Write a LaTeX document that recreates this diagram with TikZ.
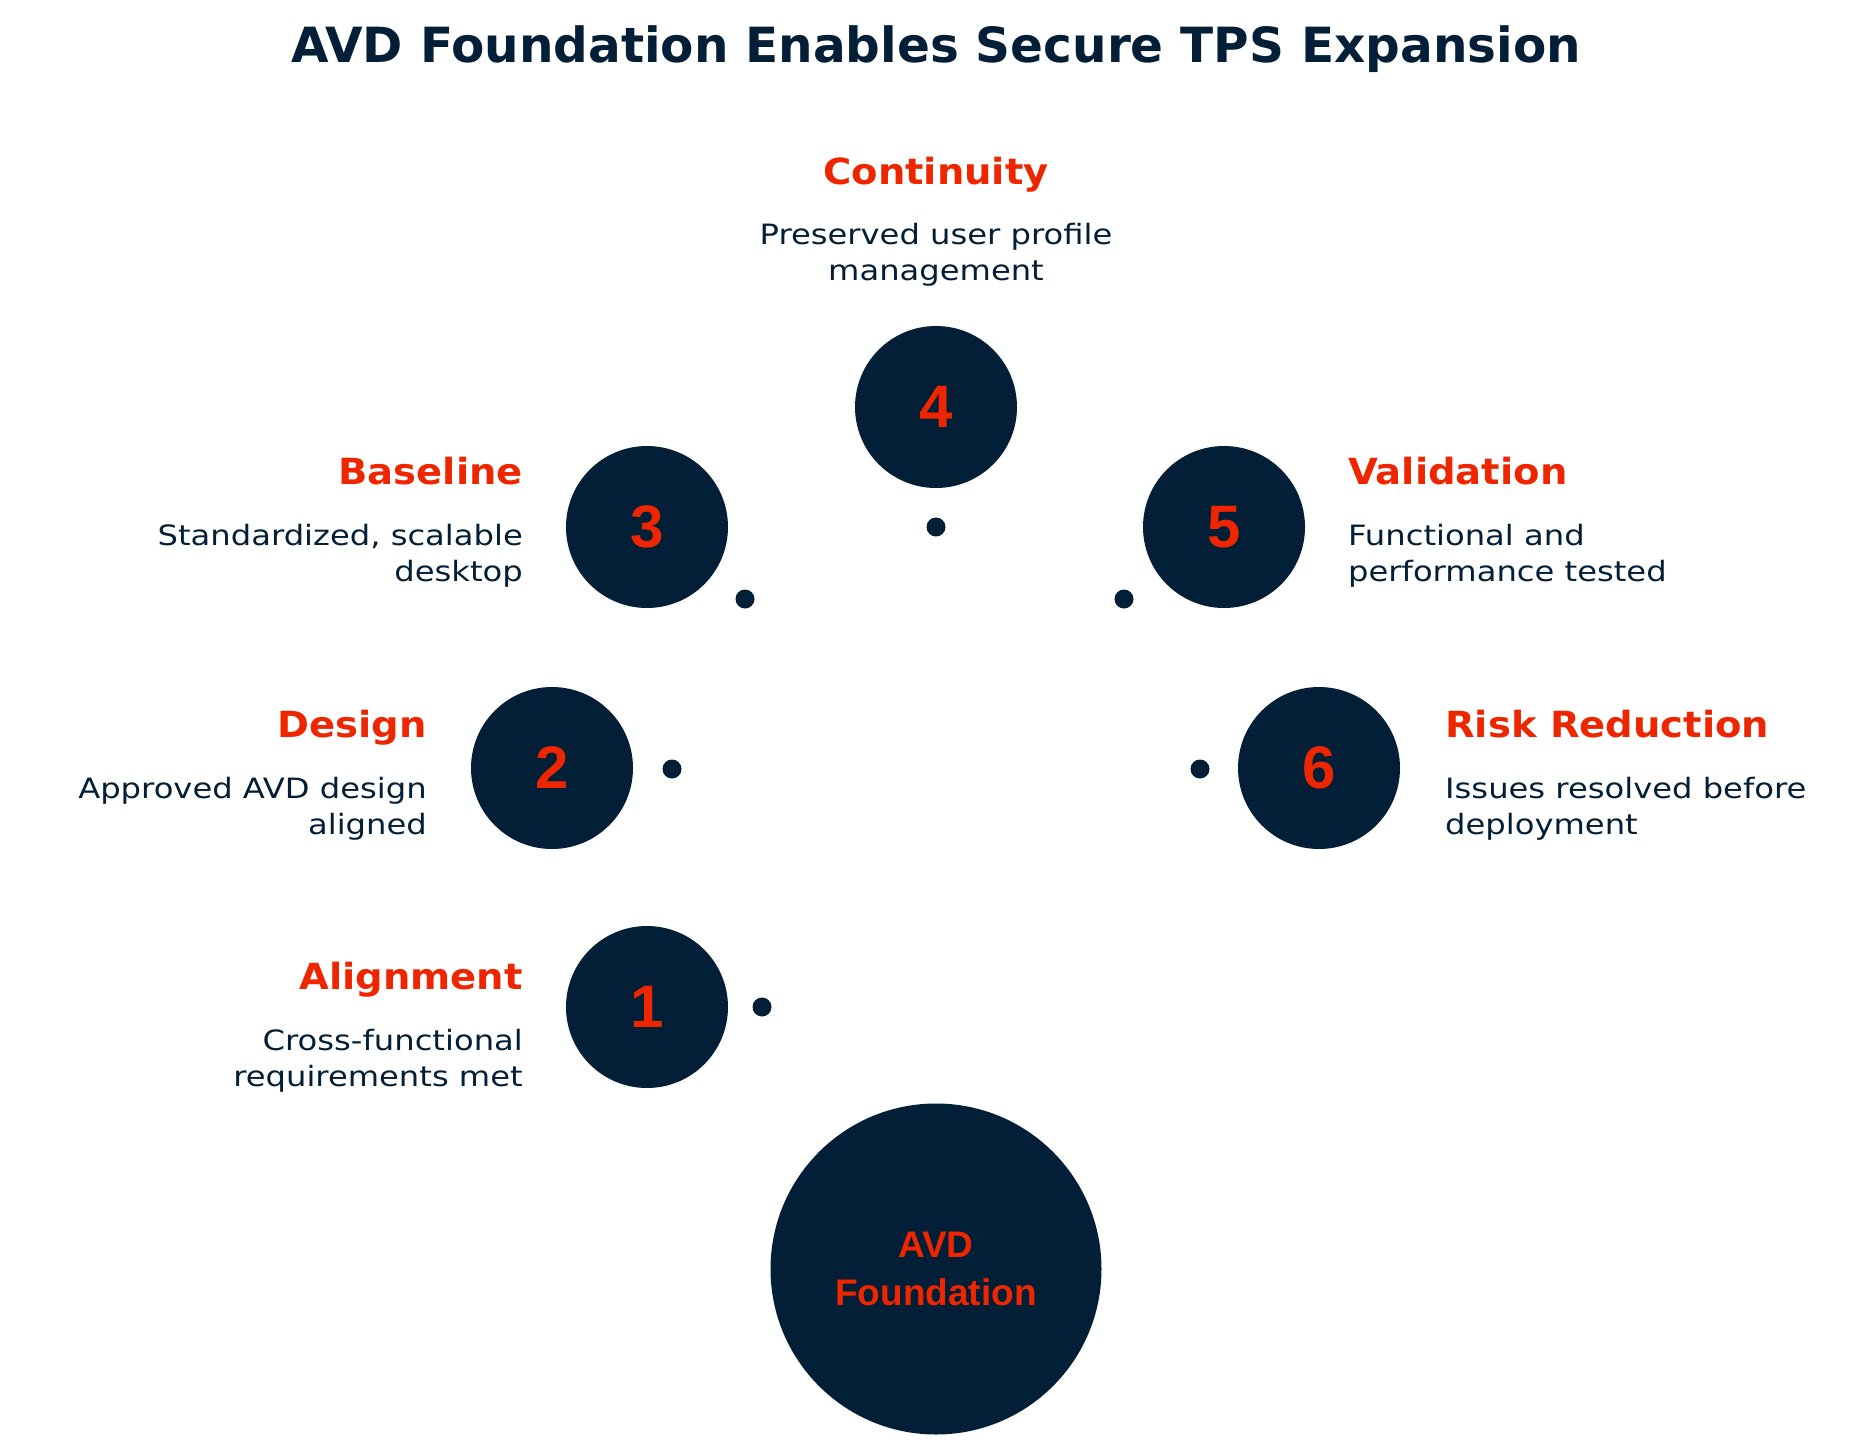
\documentclass[tikz,border=0pt]{standalone}
\usepackage{fontspec}
\usepackage{xcolor}
\setmainfont{DejaVu Sans}
\newfontfamily\numfont{Liberation Sans}
\newfontfamily\headfont[FakeStretch=1.07]{DejaVu Sans}
\newfontfamily\descfont[FakeStretch=1.15]{DejaVu Sans}
\definecolor{navy}{HTML}{021F37}
\definecolor{flame}{HTML}{EE2600}

\begin{document}
\begin{tikzpicture}[
		x=1pt,y=-1pt,
		step circle/.style={circle,fill=navy,minimum size=162,inner sep=0,text=flame,font=\numfont\bfseries\fontsize{60}{60}\selectfont},
		hub/.style={circle,fill=navy,minimum size=331,inner sep=0,text=flame,align=center,font=\numfont\bfseries\fontsize{37}{48}\selectfont},
		dot/.style={circle,fill=navy,minimum size=19,inner sep=0},
		heading/.style={text=flame,inner sep=0,font=\headfont\bfseries\fontsize{36}{40}\selectfont},
		desc/.style={text=navy,inner sep=0,font=\descfont\fontsize{28}{36}\selectfont}]
		\useasboundingbox (0,0) rectangle (1872,1456);
		\node[text=navy,inner sep=0,anchor=base,font=\bfseries\fontsize{48.5}{56}\selectfont] (title) at (936,62) {AVD Foundation Enables Secure TPS Expansion};
		\node[step circle] (s1) at (647,1007) {1};
		\node[step circle] (s2) at (552,768) {2};
		\node[step circle] (s3) at (647,527) {3};
		\node[step circle] (s4) at (936,407) {4};
		\node[step circle] (s5) at (1224,527) {5};
		\node[step circle] (s6) at (1319,768) {6};
		\node[hub] (hub) at (936,1269) {AVD\\Foundation};
		\node[dot] (d1) at (762,1007) {};
		\node[dot] (d2) at (672,769) {};
		\node[dot] (d3) at (745,599) {};
		\node[dot] (d4) at (936,527) {};
		\node[dot] (d5) at (1124,599) {};
		\node[dot] (d6) at (1200,769) {};
		\node[heading,anchor=base east] (h1) at (523,989) {Alignment};
		\node[desc,anchor=north east,align=right] (t1) at (523,1029) {Cross-functional\\requirements met};
		\node[heading,anchor=base east] (h2) at (427,737) {Design};
		\node[desc,anchor=north east,align=right] (t2) at (427,777) {Approved AVD design\\aligned};
		\node[heading,anchor=base east] (h3) at (523,484) {Baseline};
		\node[desc,anchor=north east,align=right] (t3) at (523,524) {Standardized, scalable\\desktop};
		\node[heading,anchor=base] (h4) at (936,184) {Continuity};
		\node[desc,anchor=north,align=center] (t4) at (936,223) {Preserved user profile\\management};
		\node[heading,anchor=base west] (h5) at (1348,484) {Validation};
		\node[desc,anchor=north west,align=left] (t5) at (1348,524) {Functional and\\performance tested};
		\node[heading,anchor=base west] (h6) at (1445,737) {Risk Reduction};
		\node[desc,anchor=north west,align=left] (t6) at (1445,777) {Issues resolved before\\deployment};
\end{tikzpicture}
\end{document}
